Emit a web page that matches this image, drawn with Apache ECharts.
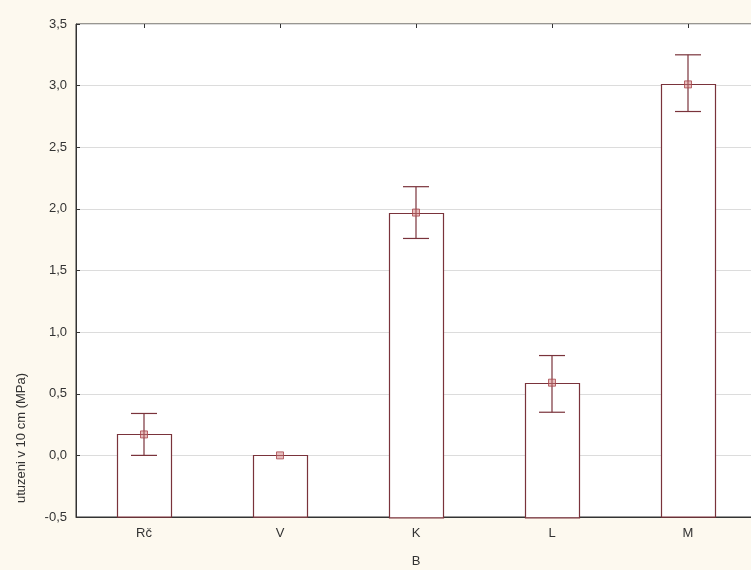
<!DOCTYPE html>
<html>
<head>
<meta charset="utf-8">
<script src="https://cdn.jsdelivr.net/npm/echarts@6/dist/echarts.min.js"></script>
<style>
html,body{margin:0;padding:0;background:#fdf9ef;}
#c{width:751px;height:570px;}
</style>
</head>
<body>
<div id="c"></div>
<script>
var categories = ['Rč', 'V', 'K', 'L', 'M'];
var means = [0.17, 0.0, 1.97, 0.59, 3.01];
var upper = [0.34, 0.0, 2.18, 0.81, 3.25];
var lower = [0.0, 0.0, 1.76, 0.35, 2.79];
var yTicks = { min: -0.5, max: 3.5, interval: 0.5 };
var xTitle = 'B';
var yTitle = 'utuzeni v 10 cm (MPa)';

var maroon = '#7a333b';
var chart = echarts.init(document.getElementById('c'), null, { renderer: 'canvas' });
var fontFam = '"Liberation Sans", Arial, sans-serif';

var barData = categories.map(function (c, i) { return [i, means[i]]; });
var errData = categories.map(function (c, i) { return [i, lower[i], upper[i]]; });
var meanData = categories.map(function (c, i) { return [i, means[i]]; });

chart.setOption({
  backgroundColor: '#fdf9ef',
  animation: false,
  grid: {
    left: 76, top: 24, width: 680, height: 493,
    outerBoundsMode: 'none',
    containLabel: false,
    show: true, backgroundColor: '#ffffff', borderColor: '#333', borderWidth: 1
  },
  xAxis: [{
    type: 'category',
    data: categories,
    position: 'bottom',
    axisLine: { onZero: false, lineStyle: { color: '#333', width: 1 } },
    axisTick: { show: true, inside: true, length: 4, alignWithLabel: true, lineStyle: { color: '#333' } },
    axisLabel: { color: '#333', fontSize: 13, fontFamily: fontFam, margin: 10 },
    name: xTitle,
    nameLocation: 'middle',
    nameGap: 38,
    nameTextStyle: { color: '#333', fontSize: 13, fontFamily: fontFam }
  }, {
    type: 'category',
    data: categories,
    position: 'top',
    axisLine: { show: false, onZero: false },
    axisTick: { show: true, inside: true, length: 4, alignWithLabel: true, lineStyle: { color: '#333' } },
    axisLabel: { show: false }
  }],
  yAxis: {
    type: 'value',
    min: yTicks.min, max: yTicks.max, interval: yTicks.interval,
    axisLine: { show: true, onZero: false, lineStyle: { color: '#333', width: 1 } },
    axisTick: { show: true, inside: true, length: 4, lineStyle: { color: '#333' } },
    axisLabel: {
      color: '#333', fontSize: 13, fontFamily: fontFam, margin: 9,
      formatter: function (v) { return v.toFixed(1).replace('.', ','); }
    },
    splitLine: { show: true, lineStyle: { color: '#dcdcdc', width: 1 } }
  },
  graphic: [{
    type: 'text',
    x: 21, y: 438,
    rotation: Math.PI / 2,
    style: {
      text: yTitle,
      fill: '#333',
      font: '13px ' + fontFam,
      textAlign: 'center',
      textVerticalAlign: 'middle'
    }
  }],
  series: [{
    type: 'custom',
    data: barData,
    z: 2,
    renderItem: function (params, api) {
      var i = api.value(0);
      var top = api.coord([i, api.value(1)]);
      var base = api.coord([i, yTicks.min]);
      var w = 54;
      return {
        type: 'rect',
        shape: { x: Math.round(top[0] - w / 2) + 0.5, y: Math.round(top[1]) + 0.5, width: w, height: base[1] - top[1] },
        style: { fill: '#ffffff', stroke: maroon, lineWidth: 1.2 }
      };
    }
  }, {
    type: 'custom',
    data: errData,
    z: 3,
    renderItem: function (params, api) {
      var i = api.value(0);
      var lo = api.coord([i, api.value(1)]);
      var hi = api.coord([i, api.value(2)]);
      var hw = 13;
      var st = { stroke: maroon, lineWidth: 1.2 };
      if (api.value(1) === api.value(2)) return { type: 'group', children: [] };
      return {
        type: 'group',
        children: [
          { type: 'line', shape: { x1: hi[0], y1: hi[1], x2: lo[0], y2: lo[1] }, style: st },
          { type: 'line', shape: { x1: hi[0] - hw, y1: hi[1], x2: hi[0] + hw, y2: hi[1] }, style: st },
          { type: 'line', shape: { x1: lo[0] - hw, y1: lo[1], x2: lo[0] + hw, y2: lo[1] }, style: st }
        ]
      };
    }
  }, {
    type: 'scatter',
    data: meanData,
    symbol: 'rect',
    symbolSize: 7,
    z: 4,
    itemStyle: { color: 'rgba(205,120,120,0.6)', borderColor: '#a8464c', borderWidth: 1 }
  }]
});
</script>
</body>
</html>
